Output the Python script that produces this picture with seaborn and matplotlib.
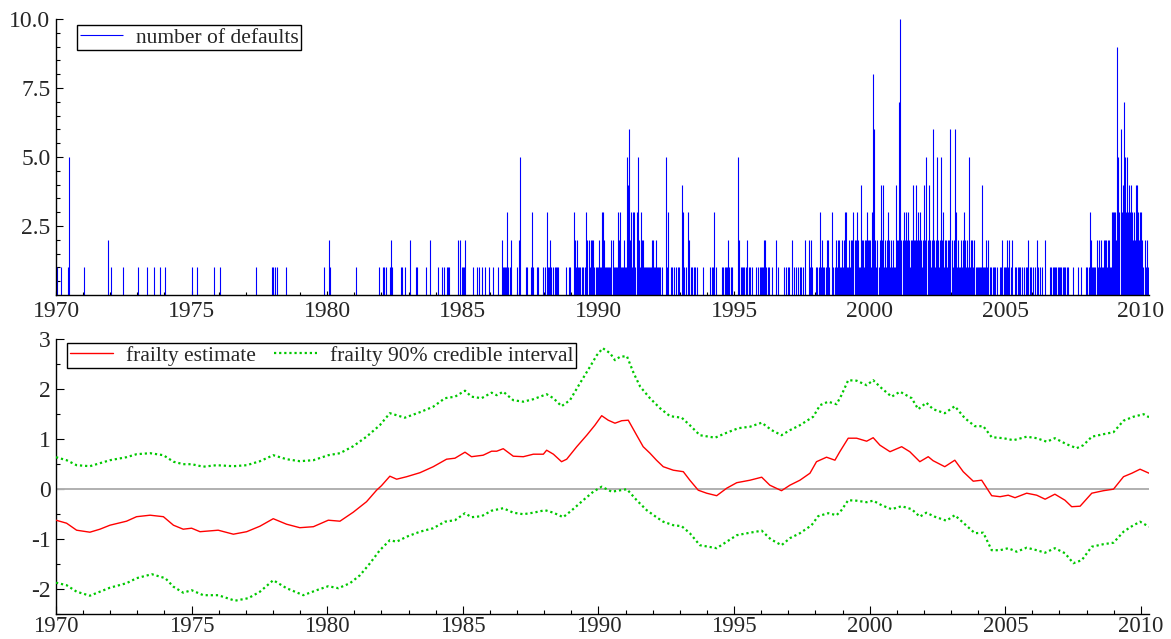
import numpy as np
import matplotlib
matplotlib.use("Agg")
import matplotlib.pyplot as plt
import seaborn as sns

# ---------------- data ----------------
# default counts per biweekly bin (26 bins per year), 'a' = 10
default_years = list(range(1970, 2011))
default_bins = [
    "10001000000150000000000000",  # 1970
    "10000000000000000000000200",  # 1971
    "10000000000010000000000000",  # 1972
    "10000000010000010000010000",  # 1973
    "10000000000000000000000000",  # 1974
    "10000100000000000000010000",  # 1975
    "01000000000000000000000000",  # 1976
    "00000000010000000000000001",  # 1977
    "11010000000010000000000000",  # 1978
    "00000000000000000000001000",  # 1979
    "02100000000000000000000000",  # 1980
    "01000000000000000000000100",  # 1981
    "01101000121000000011001000",  # 1982
    "02000001100000001000200000",  # 1983
    "00100011001110000000020201",  # 1984
    "11200000010001010010010001",  # 1985
    "00100001000211113101200001",  # 1986
    "02500000110001310001100010",  # 1987
    "10311210101111000000100110",  # 1988
    "00321211101101322122210111",  # 1989
    "21133211111122111132311121",  # 1990
    "15462313313521322111111112",  # 1991
    "21121111100051300110101011",  # 1992
    "00431103201101101000001000",  # 1993
    "00101130100000110111210110",  # 1994
    "00052011110120110100011011",  # 1995
    "11221011001000201000010101",  # 1996
    "10020101010110102002121000",  # 1997
    "11013121101221031012122112",  # 1998
    "12331121223223211422122322",  # 1999
    "21386212124241212321212114",  # 2000
    "227a2232323212242242323212",  # 2001
    "42524212621252125231221226",  # 2002
    "21263121121232121512212111",  # 2003
    "11141112120110111010112011",  # 2004
    "12120120011011101101120110",  # 2005
    "10102101010020001101111011",  # 2006
    "11011101100010000100100001",  # 2007
    "10132111121212112221221133",  # 2008
    "33295363475353434323244323",  # 2009
    "3212121",                     # 2010
]

est_years = [1970.0, 1970.39, 1970.76, 1971.25, 1971.62, 1971.99, 1972.6, 1972.97, 1973.47, 1973.96,
             1974.33, 1974.69, 1975.0, 1975.31, 1975.98, 1976.54, 1977.03, 1977.52, 1978.01, 1978.5,
             1978.99, 1979.49, 1980.04, 1980.47, 1980.96, 1981.45, 1981.82, 1982.0, 1982.31, 1982.56,
             1982.93, 1983.42, 1983.91, 1984.4, 1984.71, 1985.08, 1985.32, 1985.75, 1986.06, 1986.25,
             1986.49, 1986.86, 1987.23, 1987.6, 1987.97, 1988.09, 1988.34, 1988.64, 1988.83, 1989.2,
             1989.57, 1989.87, 1990.12, 1990.36, 1990.61, 1990.86, 1991.1, 1991.41, 1991.65, 1991.9,
             1992.14, 1992.39, 1992.76, 1993.13, 1993.37, 1993.68, 1993.99, 1994.36, 1994.73, 1995.1,
             1995.59, 1996.02, 1996.32, 1996.75, 1997.06, 1997.43, 1997.8, 1998.04, 1998.41, 1998.72,
             1998.9, 1999.21, 1999.52, 1999.89, 2000.13, 2000.38, 2000.75, 2001.18, 2001.48, 2001.85,
             2002.16, 2002.34, 2002.77, 2003.14, 2003.45, 2003.82, 2004.13, 2004.5, 2004.81, 2005.11,
             2005.36, 2005.79, 2006.16, 2006.47, 2006.83, 2007.2, 2007.45, 2007.76, 2008.19, 2008.62,
             2008.99, 2009.36, 2009.67, 2009.97, 2010.3]
est_values = [-0.63, -0.69, -0.83, -0.87, -0.81, -0.73, -0.65, -0.56, -0.53, -0.56,
              -0.73, -0.81, -0.79, -0.86, -0.83, -0.91, -0.86, -0.75, -0.60, -0.71,
              -0.78, -0.76, -0.63, -0.65, -0.47, -0.26, -0.03, 0.06, 0.25, 0.19,
              0.24, 0.32, 0.44, 0.59, 0.61, 0.73, 0.64, 0.67, 0.75, 0.75,
              0.80, 0.65, 0.64, 0.69, 0.69, 0.77, 0.69, 0.54, 0.59, 0.84,
              1.07, 1.27, 1.46, 1.37, 1.31, 1.36, 1.37, 1.07, 0.84, 0.71,
              0.57, 0.44, 0.37, 0.34, 0.17, -0.03, -0.09, -0.14, 0.01, 0.12,
              0.17, 0.23, 0.07, -0.04, 0.07, 0.17, 0.31, 0.54, 0.63, 0.57,
              0.74, 1.01, 1.01, 0.95, 1.02, 0.87, 0.74, 0.84, 0.74, 0.54,
              0.64, 0.56, 0.44, 0.57, 0.34, 0.15, 0.17, -0.14, -0.16, -0.13,
              -0.18, -0.09, -0.13, -0.21, -0.11, -0.23, -0.36, -0.35, -0.09, -0.04,
              -0.01, 0.24, 0.31, 0.39, 0.31]

up_years = [1970.0, 1970.39, 1970.76, 1971.25, 1971.62, 1971.99, 1972.6, 1972.97, 1973.47, 1973.96,
            1974.33, 1974.69, 1975.0, 1975.43, 1975.92, 1976.54, 1977.03, 1977.52, 1978.01, 1978.5,
            1978.99, 1979.49, 1980.04, 1980.47, 1980.96, 1981.45, 1981.94, 1982.31, 1982.86, 1983.42,
            1983.91, 1984.34, 1984.71, 1985.08, 1985.32, 1985.69, 1986.06, 1986.25, 1986.49, 1986.86,
            1987.23, 1987.6, 1988.09, 1988.34, 1988.64, 1988.95, 1989.32, 1989.69, 1989.94, 1990.16,
            1990.43, 1990.61, 1990.8, 1991.05, 1991.3, 1991.54, 1991.9, 1992.27, 1992.64, 1993.07,
            1993.37, 1993.74, 1994.3, 1994.73, 1995.16, 1995.59, 1996.02, 1996.39, 1996.75, 1997.06,
            1997.43, 1997.92, 1998.17, 1998.47, 1998.78, 1998.96, 1999.21, 1999.52, 1999.89, 2000.13,
            2000.44, 2000.81, 2001.12, 2001.55, 2001.79, 2002.09, 2002.34, 2002.77, 2003.14, 2003.51,
            2003.88, 2004.19, 2004.5, 2004.93, 2005.3, 2005.79, 2006.16, 2006.53, 2006.83, 2007.26,
            2007.63, 2007.88, 2008.19, 2008.62, 2008.99, 2009.36, 2009.73, 2010.1, 2010.3]
up_values = [0.63, 0.57, 0.47, 0.45, 0.51, 0.57, 0.63, 0.69, 0.71, 0.67,
             0.54, 0.49, 0.49, 0.44, 0.47, 0.45, 0.47, 0.55, 0.67, 0.59,
             0.55, 0.57, 0.67, 0.71, 0.85, 1.04, 1.27, 1.51, 1.42, 1.53,
             1.64, 1.81, 1.84, 1.96, 1.84, 1.81, 1.92, 1.87, 1.94, 1.77,
             1.74, 1.79, 1.89, 1.81, 1.65, 1.77, 2.11, 2.44, 2.67, 2.81,
             2.71, 2.57, 2.64, 2.65, 2.31, 2.04, 1.81, 1.61, 1.45, 1.42,
             1.27, 1.07, 1.02, 1.12, 1.21, 1.24, 1.32, 1.17, 1.07, 1.17,
             1.27, 1.44, 1.67, 1.74, 1.69, 1.87, 2.17, 2.16, 2.07, 2.17,
             2.01, 1.84, 1.94, 1.81, 1.59, 1.72, 1.59, 1.51, 1.65, 1.41,
             1.25, 1.25, 1.03, 1.01, 0.97, 1.04, 1.01, 0.94, 1.01, 0.89,
             0.81, 0.87, 1.04, 1.09, 1.13, 1.36, 1.44, 1.49, 1.43]

lo_years = [1970.0, 1970.39, 1970.76, 1971.25, 1971.62, 1971.99, 1972.6, 1972.97, 1973.53, 1974.03,
            1974.33, 1974.69, 1975.0, 1975.43, 1975.98, 1976.6, 1977.09, 1977.52, 1978.01, 1978.5,
            1979.12, 1979.61, 1980.04, 1980.41, 1980.84, 1981.21, 1981.58, 1981.94, 1982.31, 1982.56,
            1982.93, 1983.42, 1983.91, 1984.34, 1984.71, 1985.08, 1985.32, 1985.69, 1986.06, 1986.49,
            1986.86, 1987.23, 1987.6, 1988.03, 1988.34, 1988.7, 1989.0, 1989.44, 1989.81, 1990.12,
            1990.49, 1991.05, 1991.41, 1991.78, 1992.14, 1992.39, 1992.76, 1993.07, 1993.37, 1993.74,
            1994.36, 1994.73, 1995.1, 1995.59, 1996.02, 1996.35, 1996.75, 1997.06, 1997.43, 1997.86,
            1998.1, 1998.47, 1998.78, 1998.96, 1999.21, 1999.52, 1999.89, 2000.13, 2000.44, 2000.81,
            2001.18, 2001.55, 2001.85, 2002.09, 2002.4, 2002.83, 2003.14, 2003.51, 2003.88, 2004.19,
            2004.5, 2004.81, 2005.11, 2005.42, 2005.79, 2006.16, 2006.47, 2006.83, 2007.2, 2007.51,
            2007.82, 2008.19, 2008.62, 2008.99, 2009.36, 2009.67, 2009.97, 2010.3]
lo_values = [-1.88, -1.93, -2.06, -2.14, -2.06, -1.98, -1.89, -1.79, -1.71, -1.79,
             -1.96, -2.08, -2.03, -2.13, -2.13, -2.24, -2.19, -2.06, -1.83, -1.99,
             -2.13, -2.03, -1.95, -1.99, -1.89, -1.73, -1.49, -1.23, -1.03, -1.06,
             -0.96, -0.86, -0.79, -0.66, -0.63, -0.49, -0.57, -0.55, -0.44, -0.39,
             -0.48, -0.51, -0.48, -0.43, -0.48, -0.57, -0.44, -0.23, -0.06, 0.04,
             -0.06, -0.01, -0.23, -0.43, -0.57, -0.66, -0.73, -0.75, -0.89, -1.13,
             -1.19, -1.06, -0.93, -0.88, -0.84, -1.01, -1.13, -0.99, -0.89, -0.73,
             -0.55, -0.49, -0.53, -0.43, -0.23, -0.24, -0.27, -0.24, -0.33, -0.41,
             -0.35, -0.41, -0.56, -0.48, -0.56, -0.64, -0.53, -0.71, -0.89, -0.88,
             -1.23, -1.23, -1.19, -1.26, -1.18, -1.23, -1.28, -1.19, -1.29, -1.49,
             -1.43, -1.16, -1.11, -1.08, -0.86, -0.75, -0.66, -0.76]

# ---------------- style ----------------
sns.set_style("ticks")
plt.rcParams["font.family"] = ["Liberation Serif", "DejaVu Serif"]
plt.rcParams["axes.unicode_minus"] = False
plt.rcParams["xtick.direction"] = "in"
plt.rcParams["ytick.direction"] = "in"

W, H = 1171, 639
fig = plt.figure(figsize=(W / 100, H / 100), dpi=100)

def fx(px):
    return px / W

def fy(py):
    return 1 - py / H

ax1 = fig.add_axes([fx(56), fy(295), fx(1149) - fx(56), fy(19) - fy(295)])
ax2 = fig.add_axes([fx(56), fy(613.7), fx(1149) - fx(56), fy(338.7) - fy(613.7)])

# top panel: defaults
t, c = [], []
for yr, s in zip(default_years, default_bins):
    for i, ch in enumerate(s):
        v = int(ch, 16)
        if v > 0:
            t.append(yr + (i + 0.5) / 26.0)
            c.append(v)
ax1.vlines(t, 0, c, color="#0000ff", lw=0.8, label="number of defaults")

ax1.set_xlim(1970, 2010.3)
ax1.set_ylim(0, 10)
ax1.set_yticks([2.5, 5.0, 7.5, 10.0])
ax1.set_yticklabels(["2.5", "5.0", "7.5", "10.0"])
ax1.set_yticks(np.arange(0.5, 10.01, 0.5), minor=True)

# bottom panel: frailty
ax2.axhline(0, color="#b0b0b0", lw=1.4, zorder=1)
sns.lineplot(x=est_years, y=est_values, ax=ax2, color="#ff0000", lw=1.0,
             label="frailty estimate", zorder=3)
sns.lineplot(x=up_years, y=up_values, ax=ax2, color="#00c800", lw=1.6,
             linestyle=(0, (1.0, 1.3)), label="frailty 90% credible interval", zorder=3)
sns.lineplot(x=lo_years, y=lo_values, ax=ax2, color="#00c800", lw=1.6,
             linestyle=(0, (1.0, 1.3)), label="_nolegend_", zorder=3)
ax2.set_xlim(1970, 2010.3)
ax2.set_ylim(-2.5, 3)
ax2.set_yticks([-2, -1, 0, 1, 2, 3])
ax2.set_yticklabels(["-2", "-1", "0", "1", "2", "3"])
ax2.set_yticks(np.arange(-2.5, 3.01, 0.5), minor=True)

for ax, (maj, mnr) in ((ax1, (7, 4)), (ax2, (8, 4))):
    ax.set_xticks(range(1970, 2011, 5))
    ax.set_xticklabels([str(y) for y in range(1970, 2011, 5)])
    ax.set_xticks(range(1970, 2011), minor=True)
    ax.set_xlabel("")
    ax.set_ylabel("")
    for sp in ("top", "right"):
        ax.spines[sp].set_visible(False)
    for sp in ("left", "bottom"):
        ax.spines[sp].set_color("black")
        ax.spines[sp].set_linewidth(1.0)
    ax.tick_params(axis="both", which="major", length=maj * 0.72, width=0.8,
                   labelsize=17, pad=4, color="black")
    ax.tick_params(axis="both", which="minor", length=mnr * 0.72, width=0.8, color="black")
ax1.tick_params(axis="x", which="major", length=4 * 0.72, pad=4)
ax1.tick_params(axis="x", which="minor", length=3 * 0.72)
ax2.tick_params(axis="x", which="major", pad=1.5, labelsize=16.5)

leg_kw = dict(loc="upper left", fontsize=15.5, frameon=True, fancybox=False, shadow=False,
              borderaxespad=0, handlelength=2.0, handletextpad=0.6, borderpad=0.12,
              columnspacing=0.85, framealpha=1)
l1 = ax1.legend(bbox_to_anchor=((77 - 56) / 1093, 1 - (25 - 19) / 276), **leg_kw)
l2 = ax2.legend(ncol=2, bbox_to_anchor=((67 - 56) / 1093, 1 - (343 - 338.7) / 275), **leg_kw)
for lg in (l1, l2):
    fr = lg.get_frame()
    fr.set_edgecolor("black")
    fr.set_linewidth(1.0)
    fr.set_boxstyle("square", pad=0)

fig.savefig("out.png", dpi=100)
